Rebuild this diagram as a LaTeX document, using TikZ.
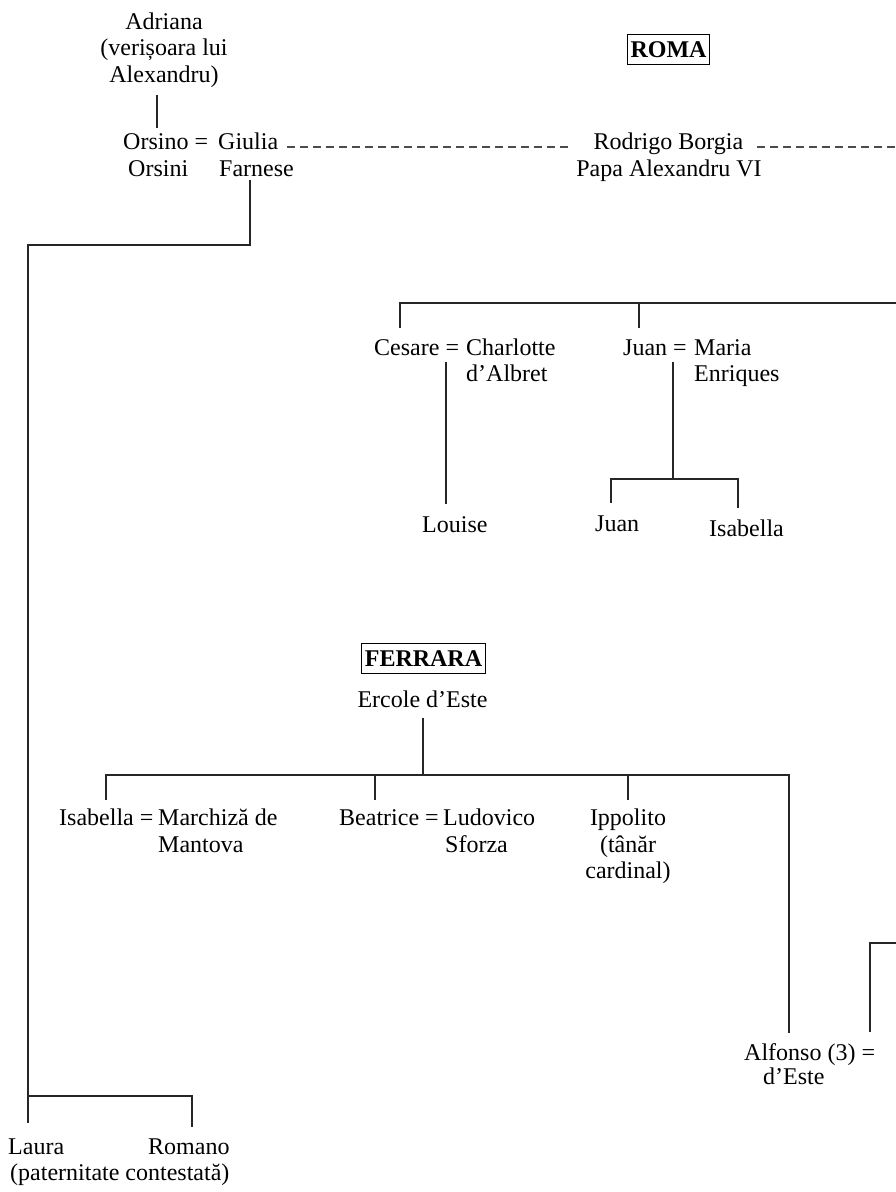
\documentclass[tikz,border=0pt]{standalone}
\usepackage{fontspec}
\setmainfont{Liberation Serif}
\begin{document}
\begin{tikzpicture}[x=1pt,y=-1pt,
  txt/.style={inner sep=0pt,font=\fontsize{24}{27}\selectfont},
  lw/.style={txt,anchor=base west},
  lc/.style={txt,anchor=base},
  regionbox/.style={draw,line width=0.9pt,inner xsep=3pt,inner ysep=7pt,text height=16pt,text depth=0pt,font=\fontsize{24}{27}\selectfont\bfseries},
  tree/.style={line width=1.8pt,black!85},
  dsh/.style={line width=1.8pt,black!70,dash pattern=on 8pt off 5pt}]
\useasboundingbox (0,0) rectangle (896,1192);
\fill[white] (0,0) rectangle (896,1192);

% ---------- ROMA ----------
\node[regionbox] (roma) at (668.5,49) {ROMA};

\node[lc] (adr1) at (164,29) {Adriana};
\node[lc] (adr2) at (164,55) {(verișoara lui};
\node[lc] (adr3) at (164,82) {Alexandru)};

\node[lw] (ors1) at (123,149) {Orsino =};
\node[lw] (giu1) at (218,149) {Giulia};
\node[lw] (ors2) at (128,176) {Orsini};
\node[lw] (giu2) at (219,176) {Farnese};

\node[lc] (rod1) at (668.5,149) {Rodrigo Borgia};
\node[lc] (rod2) at (669,176) {Papa Alexandru VI};

\node[lw] (ces1) at (374,355) {Cesare =};
\node[lw] (cha1) at (466,355) {Charlotte};
\node[lw] (cha2) at (466,381) {d’Albret};
\node[lw] (jua1) at (623,355) {Juan =};
\node[lw] (mar1) at (694,355) {Maria};
\node[lw] (mar2) at (694,381) {Enriques};

\node[lw] (louise) at (422,532) {Louise};
\node[lw] (juan2) at (595,531) {Juan};
\node[lw] (isab) at (709,536) {Isabella};

% ---------- FERRARA ----------
\node[regionbox] (ferrara) at (423.5,658.5) {FERRARA};
\node[lc] (ercole) at (422.5,707) {Ercole d’Este};

\node[lw] (isa1) at (59,825) {Isabella =};
\node[lw] (mch1) at (158,825) {Marchiză de};
\node[lw] (mch2) at (158,852) {Mantova};
\node[lw] (bea1) at (339,825) {Beatrice =};
\node[lw] (lud1) at (443,825) {Ludovico};
\node[lw] (lud2) at (445,852) {Sforza};
\node[lc] (ipp1) at (628,825) {Ippolito};
\node[lc] (ipp2) at (628,852) {(tânăr};
\node[lc] (ipp3) at (628,878) {cardinal)};

\node[lw] (alf1) at (744,1060) {Alfonso (3) =};
\node[lw] (alf2) at (763,1084) {d’Este};

\node[lw] (laura) at (8,1154) {Laura};
\node[lw] (romano) at (148,1154) {Romano};
\node[lw] (pat) at (10,1180) {(paternitate contestată)};

% ---------- junction coordinates ----------
\coordinate (adrTop) at (157,95);
\coordinate (adrBot) at (157,128);
\coordinate (farTop) at (250,180);
\coordinate (farCorner) at (250,245);
\coordinate (leftCorner) at (28,245);
\coordinate (lauraTop) at (28,1123);
\coordinate (lrBar) at (28,1096);
\coordinate (romBarR) at (192,1096);
\coordinate (romanoTop) at (192,1127);

\coordinate (dashA) at (287,147);
\coordinate (dashB) at (568,147);
\coordinate (dashC) at (757,147);
\coordinate (dashD) at (896,147);

\coordinate (cesTop) at (400,328);
\coordinate (barL) at (400,303);
\coordinate (barR) at (896,303);
\coordinate (juaBar) at (639,303);
\coordinate (juaTop) at (639,328);

\coordinate (cesLineT) at (446,362);
\coordinate (louiseTop) at (446,504);

\coordinate (juaLineT) at (673,362);
\coordinate (juaLineB) at (673,479);
\coordinate (jcL) at (611,479);
\coordinate (jcR) at (738,479);
\coordinate (juan2Top) at (611,503);
\coordinate (isabTop) at (738,508);

\coordinate (ercB) at (423,718);
\coordinate (ercBar) at (423,775);
\coordinate (fBarL) at (106,775);
\coordinate (fBarR) at (789,775);
\coordinate (isaTop) at (106,800);
\coordinate (beaBar) at (375,775);
\coordinate (beaTop) at (375,800);
\coordinate (ippBar) at (628,775);
\coordinate (ippTop) at (628,800);
\coordinate (alfTop) at (789,1033);

\coordinate (rbBot) at (870,1032);
\coordinate (rbCorner) at (870,943);
\coordinate (rbEnd) at (896,943);

% ---------- connectors ----------
\draw[tree] (adrTop) -- (adrBot);
\draw[tree] (farTop) -- (farCorner) -- (leftCorner) -- (lauraTop);
\draw[tree] (lrBar) -- (romBarR) -- (romanoTop);

\draw[dsh] (dashA) -- (dashB);
\draw[dsh] (dashC) -- (dashD);

\draw[tree] (cesTop) -- (barL) -- (barR);
\draw[tree] (juaBar) -- (juaTop);
\draw[tree] (cesLineT) -- (louiseTop);
\draw[tree] (juaLineT) -- (juaLineB);
\draw[tree] (juan2Top) -- (jcL) -- (jcR) -- (isabTop);

\draw[tree] (ercB) -- (ercBar);
\draw[tree] (isaTop) -- (fBarL) -- (fBarR) -- (alfTop);
\draw[tree] (beaBar) -- (beaTop);
\draw[tree] (ippBar) -- (ippTop);

\draw[tree] (rbBot) -- (rbCorner) -- (rbEnd);
\end{tikzpicture}
\end{document}
